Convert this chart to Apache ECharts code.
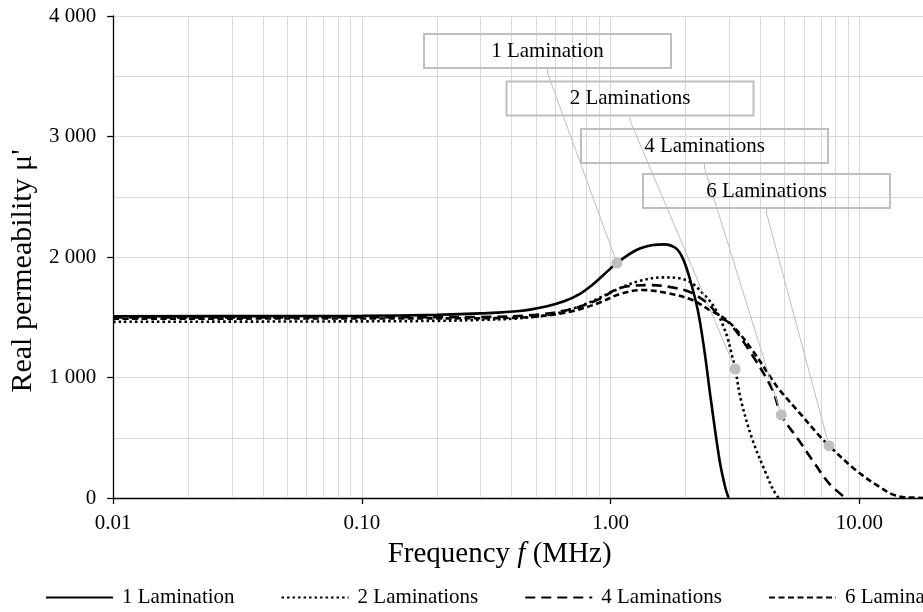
<!DOCTYPE html>
<html>
<head>
<meta charset="utf-8">
<script src="https://cdn.jsdelivr.net/npm/echarts@6/dist/echarts.min.js"></script>
<style>
html,body{margin:0;padding:0;background:#fff;overflow:hidden;width:923px;height:612px;}
#chart{width:1140px;height:612px;}
</style>
</head>
<body>
<div id="chart"></div>
<script>
// ---- Data (frequency in MHz, real permeability) ----
const seriesNames = ['1 Lamination', '2 Laminations', '4 Laminations', '6 Laminations'];

const lam1F = [0.01, 0.05, 0.1, 0.2, 0.3, 0.43, 0.55, 0.65, 0.75, 0.84, 0.94, 1.06, 1.27, 1.48, 1.645, 1.83, 1.95, 2.07, 2.24, 2.38, 2.53, 2.74, 2.88, 2.98];
const lam1V = [1508, 1510, 1512, 1520, 1532, 1552, 1590, 1632, 1692, 1765, 1855, 1950, 2058, 2099, 2105, 2072, 1989, 1836, 1560, 1228, 813, 315, 100, 0];

const lam2F = [0.01, 0.1, 0.2, 0.3, 0.43, 0.6, 0.75, 0.9, 1.087, 1.3, 1.62, 2.01, 2.42, 2.65, 2.82, 2.95, 3.06, 3.17, 3.34, 3.72, 4.21, 4.5, 4.73];
const lam2V = [1462, 1466, 1470, 1478, 1492, 1530, 1590, 1660, 1740, 1800, 1831, 1809, 1670, 1560, 1440, 1330, 1200, 1070, 813, 481, 205, 70, 0];

const lam4F = [0.01, 0.1, 0.3, 0.5, 0.7, 0.9, 1.087, 1.43, 1.8, 2.13, 2.5, 2.73, 3.0, 3.6, 4.47, 4.85, 5.7, 6.47, 7.55, 8.8];
const lam4V = [1498, 1500, 1502, 1520, 1570, 1650, 1742, 1767, 1745, 1700, 1600, 1504, 1452, 1228, 900, 690, 481, 315, 122, 0];

const lam6F = [0.01, 0.1, 0.3, 0.5, 0.7, 0.9, 1.087, 1.34, 1.7, 2.13, 2.5, 2.73, 3.08, 3.71, 4.47, 4.76, 5.7, 6.88, 7.55, 9.66, 12, 14, 17, 20, 100];
const lam6V = [1488, 1490, 1492, 1505, 1550, 1620, 1692, 1726, 1700, 1643, 1560, 1520, 1435, 1228, 979, 900, 715, 520, 434, 232, 94, 20, 2, 0, 0];

// labelled points (one per curve)
const calloutF = [1.06, 3.17, 4.85, 7.55];
const calloutV = [1950, 1070, 690, 434];

// axis minor grid positions
const xMinorTicks = [0.02,0.03,0.04,0.05,0.06,0.07,0.08,0.09,0.2,0.3,0.4,0.5,0.6,0.7,0.8,0.9,2,3,4,5,6,7,8,9,20,30,40,50,60,70,80,90];

// ---- Layout (pixels) ----
const boxCenters = [[547.5, 51], [630, 98.5], [704.5, 146], [766.5, 191]];
const FONT = 'Liberation Serif, Times New Roman, serif';

function pairs(f, v) { return f.map((x, i) => [x, v[i]]); }

const chart = echarts.init(document.getElementById('chart'), null, {renderer: 'canvas'});

const lineBase = {
  type: 'line', showSymbol: false, symbol: 'none', smooth: 0.35, z: 2, clip: true
};

const option = {
  animation: false,
  backgroundColor: '#fff',
  grid: {left: 112, top: 16, bottom: 114, right: 30, containLabel: false},
  xAxis: {
    type: 'log', logBase: 10, min: 0.01, max: 100,
    axisLine: {show: true, onZero: false, lineStyle: {color: '#000', width: 1.3}},
    axisTick: {show: true, inside: false, length: 6, lineStyle: {color: '#000', width: 1.3}},
    axisLabel: {color: '#000', fontFamily: FONT, fontSize: 21, margin: 15,
      formatter: v => Number(v).toFixed(2)},
    splitLine: {show: true, lineStyle: {color: '#d9d9d9', width: 1}},
    minorTick: {show: false}, minorSplitLine: {show: false},
    name: '{n|Frequency }{i|f}{n| (MHz)}',
    nameLocation: 'middle', nameGap: 42,
    nameTextStyle: {
      color: '#000', fontFamily: FONT, fontSize: 29,
      padding: [0, 222, 0, 0],
      rich: {
        n: {fontFamily: FONT, fontSize: 29, color: '#000'},
        i: {fontFamily: FONT, fontSize: 29, color: '#000', fontStyle: 'italic'}
      }
    }
  },
  yAxis: {
    type: 'value', min: 0, max: 4000, interval: 1000,
    axisLine: {show: true, lineStyle: {color: '#000', width: 1.3}},
    axisTick: {show: true, inside: false, length: 6, lineStyle: {color: '#000', width: 1.3}},
    axisLabel: {color: '#000', fontFamily: FONT, fontSize: 21, margin: 17,
      formatter: v => v === 0 ? '0' : (v / 1000) + ' 000'},
    splitLine: {show: true, lineStyle: {color: '#d9d9d9', width: 1}},
    minorTick: {show: false, splitNumber: 2},
    minorSplitLine: {show: true, lineStyle: {color: '#d9d9d9', width: 1}},
    name: "Real permeability \u03bc'",
    nameLocation: 'middle', nameGap: 56,
    nameTextStyle: {color: '#000', fontFamily: FONT, fontSize: 30, padding: [0, 28, 0, 0]}
  },
  legend: {
    left: 40, top: 582,
    itemWidth: 67, itemHeight: 14, itemGap: 46,
    itemStyle: {opacity: 0},
    textStyle: {color: '#000', fontFamily: FONT, fontSize: 21, padding: [0, 0, 0, 4]},
    data: seriesNames
  },
  series: [
    Object.assign({}, lineBase, {
      name: seriesNames[0], data: pairs(lam1F, lam1V),
      lineStyle: {color: '#000', width: 2.6, type: 'solid'},
      itemStyle: {color: '#000'},
      markLine: {
        silent: true, z: 1, symbol: ['none', 'none'], animation: false,
        label: {show: false},
        lineStyle: {color: '#d9d9d9', width: 1, type: 'solid'},
        emphasis: {disabled: true},
        data: xMinorTicks.map(v => ({xAxis: v}))
      }
    }),
    Object.assign({}, lineBase, {
      name: seriesNames[1], data: pairs(lam2F, lam2V),
      lineStyle: {color: '#000', width: 2.6, type: [2.5, 3], cap: 'butt'},
      itemStyle: {color: '#000'}
    }),
    Object.assign({}, lineBase, {
      name: seriesNames[2], data: pairs(lam4F, lam4V),
      lineStyle: {color: '#000', width: 2.6, type: [10, 6], cap: 'butt'},
      itemStyle: {color: '#000'}
    }),
    Object.assign({}, lineBase, {
      name: seriesNames[3], data: pairs(lam6F, lam6V),
      lineStyle: {color: '#000', width: 2.6, type: [6, 3.5], cap: 'butt'},
      itemStyle: {color: '#000'}
    }),
    {
      type: 'scatter', name: 'callouts', z: 4,
      data: pairs(calloutF, calloutV),
      symbol: 'circle', symbolSize: 11,
      itemStyle: {color: '#bfbfbf', opacity: 1},
      label: {
        show: true,
        formatter: p => seriesNames[p.dataIndex],
        fontFamily: FONT, fontSize: 21, color: '#000',
        width: 247, height: 34, lineHeight: 34,
        align: 'center', verticalAlign: 'middle',
        borderColor: '#bfbfbf', borderWidth: 1, padding: 0,
        backgroundColor: 'transparent', opacity: 1
      },
      labelLine: {show: true, length2: 4, lineStyle: {color: '#bfbfbf', width: 1, opacity: 1}},
      labelLayout: function (params) {
        const b = boxCenters[params.dataIndex];
        return {x: b[0], y: b[1], align: 'center', verticalAlign: 'middle'};
      },
      emphasis: {disabled: true}
    }
  ]
};

chart.setOption(option);
</script>
</body>
</html>
